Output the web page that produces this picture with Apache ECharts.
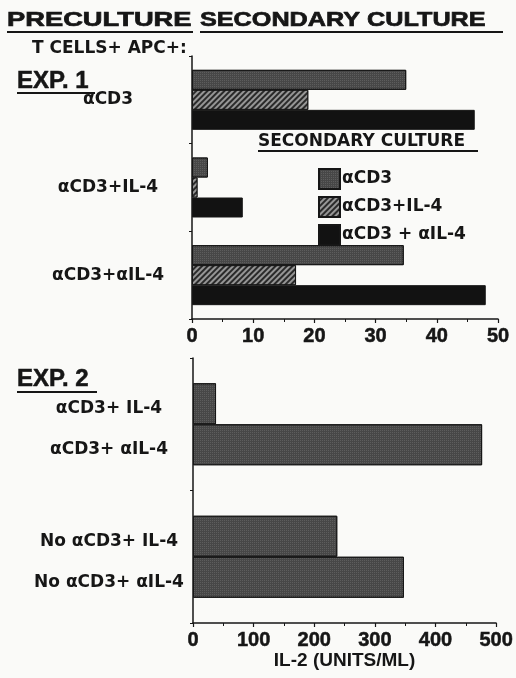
<!DOCTYPE html>
<html>
<head>
<meta charset="utf-8">
<script src="https://cdn.jsdelivr.net/npm/echarts@6/dist/echarts.min.js"></script>
<style>html,body{margin:0;padding:0;background:#fafaf8;}#c{width:516px;height:678px;}</style>
</head>
<body>
<div id="c"></div>
<script>
// ---- Data ----
var exp1Categories = ['αCD3', 'αCD3+IL-4', 'αCD3+αIL-4'];
var exp1SeriesNames = ['αCD3', 'αCD3+IL-4', 'αCD3 + αIL-4'];
var exp1Anti = [35.0, 2.6, 34.6];
var exp1AntiIL4 = [19.0, 0.9, 17.0];
var exp1AntiAntiIL4 = [46.2, 8.3, 48.0];
var exp1Ticks = [0, 10, 20, 30, 40, 50];

var exp2Groups = ['αCD3', 'No αCD3'];
var exp2SeriesNames = ['IL-4', 'αIL-4'];
var exp2IL4 = [38, 238];
var exp2AntiIL4 = [477, 348];
var exp2Ticks = [0, 100, 200, 300, 400, 500];

// ---- Styles ----
var INK = '#161616';
var SANS = 'DejaVu Sans';
var ARIAL = 'Liberation Sans';
var stipple = { color: '#474747', borderColor: INK, borderWidth: 1,
  decal: { symbol: 'rect', symbolSize: 1, dashArrayX: [1, 1], dashArrayY: [1, 1], color: 'rgba(255,255,255,0.12)' } };
var hatch = { color: '#2a2a2a', borderColor: INK, borderWidth: 1,
  decal: { symbol: 'rect', symbolSize: 1, dashArrayX: [1, 0], dashArrayY: [2, 2], rotation: -Math.PI / 4, color: 'rgba(185,185,185,0.75)' } };
var solid = { color: '#121212', borderColor: INK, borderWidth: 1 };

var chart = echarts.init(document.getElementById('c'), null, { renderer: 'canvas' });

function valueAxis(gi, ticks, extra) {
  var a = {
    type: 'value', gridIndex: gi, min: ticks[0], max: ticks[ticks.length - 1],
    interval: ticks[1] - ticks[0],
    axisLine: { show: true, lineStyle: { color: INK, width: 1.5 } },
    axisTick: { show: true, length: 4, lineStyle: { color: INK, width: 1.2 } },
    minorTick: { show: true, splitNumber: 2, length: 3, lineStyle: { color: INK, width: 1 } },
    splitLine: { show: false },
    axisLabel: { color: INK, fontFamily: ARIAL, fontWeight: 'bold', fontSize: 20, margin: 7,
      textBorderColor: INK, textBorderWidth: 0.5 }
  };
  for (var k in extra) a[k] = extra[k];
  return a;
}

var headStyle = { fill: INK, fontFamily: ARIAL, fontWeight: 'bold', fontSize: 21, align: 'left', verticalAlign: 'middle', stroke: INK, lineWidth: 0.7 };

chart.setOption({
  backgroundColor: '#fafaf8',
  animation: false,
  textStyle: { fontFamily: SANS, color: INK },
  grid: [
    { left: 192, top: 56, width: 306, height: 263 },
    { left: 193, top: 358, width: 306, height: 265 }
  ],
  xAxis: [
    valueAxis(0, exp1Ticks, {}),
    valueAxis(1, exp2Ticks, {
      name: 'IL-2 (UNITS/ML)', nameLocation: 'middle', nameGap: 26,
      nameTextStyle: { color: INK, fontFamily: ARIAL, fontWeight: 'bold', fontSize: 19 }
    })
  ],
  yAxis: [
    { type: 'category', gridIndex: 0, data: exp1Categories, inverse: true,
      axisLine: { lineStyle: { color: INK, width: 1.5 } },
      axisTick: { show: true, length: 3, lineStyle: { color: INK } },
      axisLabel: { color: INK, fontFamily: SANS, fontWeight: 'bold', fontSize: 17,
        align: 'center', margin: 84, padding: [8, 0, 0, 0] } },
    { type: 'category', gridIndex: 1, data: exp2Groups, inverse: true,
      axisLine: { lineStyle: { color: INK, width: 1.5 } },
      axisTick: { show: true, length: 3, lineStyle: { color: INK } },
      axisLabel: { show: false } }
  ],
  legend: {
    data: exp1SeriesNames, orient: 'vertical', left: 313, top: 163,
    itemWidth: 21, itemHeight: 20, itemGap: 6, icon: 'rect',
    textStyle: { color: INK, fontFamily: SANS, fontWeight: 'bold', fontSize: 17, padding: [0, 0, 0, -3] },
    selectedMode: false
  },
  series: [
    { name: exp1SeriesNames[0], type: 'bar', xAxisIndex: 0, yAxisIndex: 0, data: exp1Anti,
      barWidth: 20, barGap: '0%', itemStyle: stipple },
    { name: exp1SeriesNames[1], type: 'bar', xAxisIndex: 0, yAxisIndex: 0, data: exp1AntiIL4,
      barWidth: 20, barGap: '0%', itemStyle: hatch },
    { name: exp1SeriesNames[2], type: 'bar', xAxisIndex: 0, yAxisIndex: 0, data: exp1AntiAntiIL4,
      barWidth: 20, barGap: '0%', itemStyle: solid },
    { name: exp2SeriesNames[0], type: 'bar', xAxisIndex: 1, yAxisIndex: 1, data: exp2IL4,
      barWidth: 41, barGap: '0%', itemStyle: stipple,
      label: { show: true, position: [-84, '50%'], align: 'center', verticalAlign: 'middle', offset: [0, 5],
        color: INK, fontFamily: SANS, fontWeight: 'bold', fontSize: 17,
        formatter: function (p) { return p.name + '+ ' + p.seriesName; } } },
    { name: exp2SeriesNames[1], type: 'bar', xAxisIndex: 1, yAxisIndex: 1, data: exp2AntiIL4,
      barWidth: 41, barGap: '0%', itemStyle: stipple,
      label: { show: true, position: [-84, '50%'], align: 'center', verticalAlign: 'middle', offset: [0, 5],
        color: INK, fontFamily: SANS, fontWeight: 'bold', fontSize: 17,
        formatter: function (p) { return p.name + '+ ' + p.seriesName; } } }
  ],
  graphic: [
    { type: 'text', x: 7, y: 20, scaleX: 1.3, style: Object.assign({ text: 'PRECULTURE' }, headStyle) },
    { type: 'line', shape: { x1: 7, y1: 32, x2: 193, y2: 32 }, style: { stroke: INK, lineWidth: 2 } },
    { type: 'text', x: 200, y: 20, scaleX: 1.2, style: Object.assign({ text: 'SECONDARY CULTURE' }, headStyle) },
    { type: 'line', shape: { x1: 200, y1: 32, x2: 503, y2: 32 }, style: { stroke: INK, lineWidth: 2 } },
    { type: 'text', x: 32, y: 49, style: { text: 'T CELLS+ APC+:', fill: INK, fontFamily: SANS, fontWeight: 'bold', fontSize: 17, align: 'left', verticalAlign: 'middle' } },
    { type: 'text', x: 17, y: 81, style: { text: 'EXP. 1', fill: INK, fontFamily: ARIAL, fontWeight: 'bold', fontSize: 24, align: 'left', verticalAlign: 'middle', stroke: INK, lineWidth: 0.5 } },
    { type: 'line', shape: { x1: 17, y1: 93, x2: 95, y2: 93 }, style: { stroke: INK, lineWidth: 2 } },
    { type: 'text', x: 17, y: 379, style: { text: 'EXP. 2', fill: INK, fontFamily: ARIAL, fontWeight: 'bold', fontSize: 24, align: 'left', verticalAlign: 'middle', stroke: INK, lineWidth: 0.5 } },
    { type: 'line', shape: { x1: 17, y1: 392, x2: 97, y2: 392 }, style: { stroke: INK, lineWidth: 2 } },
    { type: 'text', x: 258, y: 142, style: { text: 'SECONDARY CULTURE', fill: INK, fontFamily: SANS, fontWeight: 'bold', fontSize: 17, align: 'left', verticalAlign: 'middle' } },
    { type: 'line', shape: { x1: 258, y1: 151, x2: 478, y2: 151 }, style: { stroke: INK, lineWidth: 2 } }
  ]
});
</script>
</body>
</html>
